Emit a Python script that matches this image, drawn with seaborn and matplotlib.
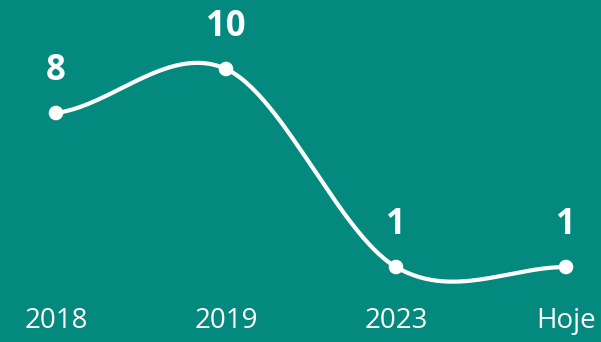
import numpy as np
import pandas as pd
import matplotlib
matplotlib.use("Agg")
import matplotlib.pyplot as plt
import seaborn as sns

# Data
periods = ["2018", "2019", "2023", "Hoje"]
counts = [8, 10, 1, 1]

BG = "#04897E"
FG = "#FFFFFF"

sns.set_theme(style="white")
plt.rcParams["font.family"] = ["Open Sans", "DejaVu Sans"]

fig = plt.figure(figsize=(6.01, 3.42), dpi=100, facecolor=BG)
ax = fig.add_axes([0, 42 / 342, 1, 300 / 342])
ax.set_facecolor(BG)

x = np.arange(len(counts), dtype=float)
y = np.asarray(counts, dtype=float)

# Catmull-Rom spline through the points (end tangents from one-sided differences)
tang = np.empty_like(y)
tang[1:-1] = (y[2:] - y[:-2]) / 2
tang[0] = (y[1] - y[0]) / 2
tang[-1] = (y[-1] - y[-2]) / 2
xs, ys = [], []
for i in range(len(y) - 1):
    t = np.linspace(0, 1, 60, endpoint=(i == len(y) - 2))
    h00 = 2 * t**3 - 3 * t**2 + 1
    h10 = t**3 - 2 * t**2 + t
    h01 = -2 * t**3 + 3 * t**2
    h11 = t**3 - t**2
    xs.append(x[i] + t)
    ys.append(h00 * y[i] + h10 * tang[i] + h01 * y[i + 1] + h11 * tang[i + 1])
curve = pd.DataFrame({"x": np.concatenate(xs), "y": np.concatenate(ys)})
pts = pd.DataFrame({"x": x, "y": y})

sns.lineplot(data=curve, x="x", y="y", ax=ax, color=FG, linewidth=3.0,
             sort=False, estimator=None)
sns.scatterplot(data=pts, x="x", y="y", ax=ax, color=FG, s=110,
                edgecolor="none", zorder=3)

for xi, yi in zip(x, counts):
    ax.annotate(f"{yi}", (xi, yi), xytext=(0, 42), textcoords="offset pixels",
                ha="center", va="center", color=FG, fontsize=25,
                fontweight="bold")

ax.set_xlim(-56 / 170, 3 + 35 / 170)
ax.set_ylim(-0.5, 10 + 69 / 22)
ax.set_xticks(x)
ax.set_xticklabels(periods, color=FG, fontsize=20)
ax.set_yticks([])
ax.tick_params(axis="x", length=0, pad=5)
ax.set_xlabel("")
ax.set_ylabel("")
for s in ax.spines.values():
    s.set_visible(False)

fig.savefig("out.png", dpi=100, facecolor=BG)
